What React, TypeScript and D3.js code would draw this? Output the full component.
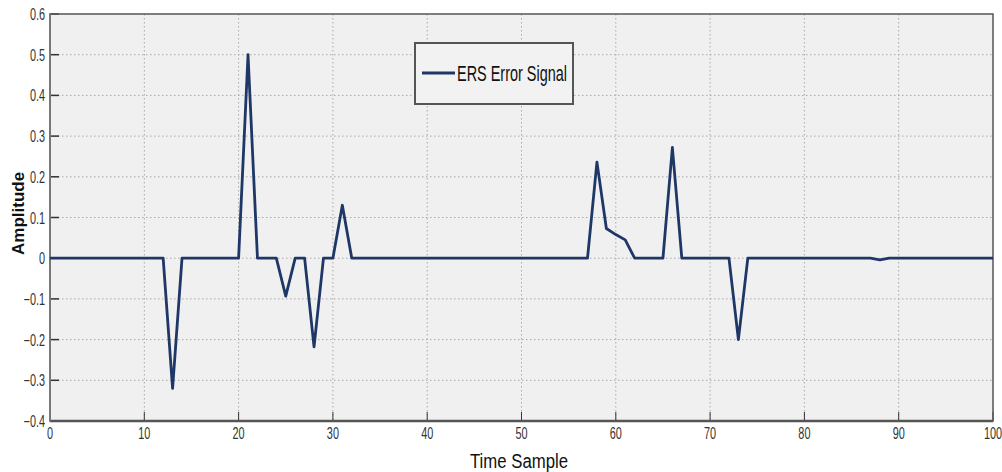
import React from "react";
import * as d3 from "d3";

// ERS error signal, one value per time sample (0..100)
const ersError = [
  0, 0, 0, 0, 0, 0, 0, 0, 0, 0,
  0, 0, 0, -0.32, 0, 0, 0, 0, 0, 0,
  0, 0.5, 0, 0, 0, -0.093, 0, 0, -0.218, 0,
  0, 0.13, 0, 0, 0, 0, 0, 0, 0, 0,
  0, 0, 0, 0, 0, 0, 0, 0, 0, 0,
  0, 0, 0, 0, 0, 0, 0, 0, 0.236, 0.073,
  0.058, 0.045, 0, 0, 0, 0, 0.272, 0, 0, 0,
  0, 0, 0, -0.2, 0, 0, 0, 0, 0, 0,
  0, 0, 0, 0, 0, 0, 0, 0, -0.004, 0,
  0, 0, 0, 0, 0, 0, 0, 0, 0, 0, 0,
];
const xTicks = [0, 10, 20, 30, 40, 50, 60, 70, 80, 90, 100];
const yTicks = [-0.4, -0.3, -0.2, -0.1, 0, 0.1, 0.2, 0.3, 0.4, 0.5, 0.6];
const legendLabel = "ERS Error Signal";

const W = 1002;
const H = 472;
const margin = { top: 14, right: 9, bottom: 51, left: 50 };
const sans = "'Liberation Sans', Arial, sans-serif";

export default function App() {
  const x = d3.scaleLinear().domain([0, 100]).range([margin.left, W - margin.right]);
  const y = d3.scaleLinear().domain([-0.4, 0.6]).range([H - margin.bottom, margin.top]);

  const line = d3
    .line<number>()
    .x((_, i) => x(i))
    .y((d) => y(d));

  const fmtY = (v: number) => (v === 0 ? "0" : d3.format(".1f")(v));

  return (
    <svg
      width={W}
      height={H}
      style={{ position: "absolute", left: 0, top: 0, background: "#fff" }}
    >
      <rect
        x={x(0)}
        y={y(0.6)}
        width={x(100) - x(0)}
        height={y(-0.4) - y(0.6)}
        fill="#f0f0f0"
      />
      {/* grid */}
      {xTicks.slice(1, -1).map((t) => (
        <line
          key={"gx" + t}
          x1={x(t)}
          x2={x(t)}
          y1={y(0.6)}
          y2={y(-0.4)}
          stroke="#a8a8a8"
          strokeDasharray="1.5,2.5"
        />
      ))}
      {yTicks.slice(1, -1).map((t) => (
        <line
          key={"gy" + t}
          x1={x(0)}
          x2={x(100)}
          y1={y(t)}
          y2={y(t)}
          stroke="#a8a8a8"
          strokeDasharray="1.5,2.5"
        />
      ))}
      {/* ticks */}
      {xTicks.map((t) => (
        <g key={"tx" + t}>
          <line x1={x(t)} x2={x(t)} y1={y(-0.4)} y2={y(-0.4) - 9} stroke="#333" />
          <text
            transform={`translate(${x(t)},${y(-0.4) + 18}) scale(0.68,1)`}
            textAnchor="middle"
            fontFamily={sans}
            fontSize={16}
            fill="#333"
          >
            {t}
          </text>
        </g>
      ))}
      {yTicks.map((t) => (
        <g key={"ty" + t}>
          <line x1={x(0)} x2={x(0) + 9} y1={y(t)} y2={y(t)} stroke="#333" strokeWidth={1.5} />
          <text
            transform={`translate(${x(0) - 5},${y(t) + 6}) scale(0.68,1)`}
            textAnchor="end"
            fontFamily={sans}
            fontSize={16}
            fill="#333"
          >
            {fmtY(t)}
          </text>
        </g>
      ))}
      {/* frame */}
      <rect
        x={x(0)}
        y={y(0.6)}
        width={x(100) - x(0)}
        height={y(-0.4) - y(0.6)}
        fill="none"
        stroke="#555"
        strokeWidth={1.5}
      />
      <line x1={x(0)} x2={x(100)} y1={y(-0.4)} y2={y(-0.4)} stroke="#555" strokeWidth={2.5} />
      <line x1={x(0)} x2={x(0)} y1={y(0.6)} y2={y(-0.4)} stroke="#777" strokeWidth={2} />
      {/* signal */}
      <path
        d={line(ersError) || ""}
        fill="none"
        stroke="#1f3766"
        strokeWidth={2.8}
        strokeLinejoin="round"
      />
      {/* legend */}
      <g>
        <rect x={415} y={43} width={158} height={61} fill="#f2f2f2" stroke="#555" strokeWidth={2} />
        <line x1={422} x2={455} y1={73} y2={73} stroke="#1f3766" strokeWidth={2.8} />
        <text
          x={457}
          y={81}
          fontFamily={sans}
          fontSize={22}
          fill="#111"
          textLength={110}
          lengthAdjust="spacingAndGlyphs"
        >
          {legendLabel}
        </text>
      </g>
      {/* axis titles */}
      <text
        x={470}
        y={468}
        fontFamily={sans}
        fontSize={20}
        fill="#111"
        textLength={98}
        lengthAdjust="spacingAndGlyphs"
      >
        Time Sample
      </text>
      <text
        transform={`translate(24,${y(0.11)}) rotate(-90)`}
        textAnchor="middle"
        fontFamily={sans}
        fontWeight="bold"
        fontSize={17}
        fill="#111"
      >
        Amplitude
      </text>
    </svg>
  );
}
